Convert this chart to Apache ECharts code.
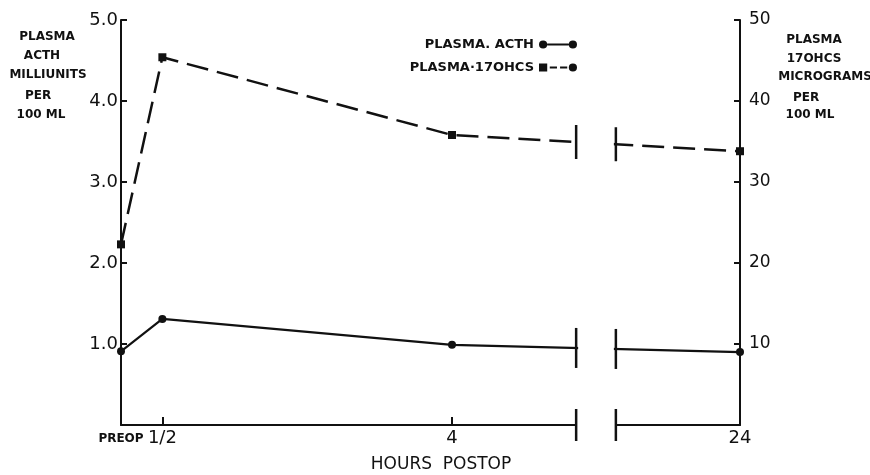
<!DOCTYPE html>
<html><head><meta charset="utf-8">
<script src="https://cdn.jsdelivr.net/npm/echarts@6/dist/echarts.min.js"></script>
<style>html,body{margin:0;padding:0;background:#fff}#c{width:870px;height:475px}</style>
</head><body><div id="c"></div>
<script>
// ---- data ----
const hours = [0, 0.5, 4, 24];
const hourLabels = ['PREOP', '1/2', '4', '24'];
const acth = [0.91, 1.31, 0.99, 0.90];          // milliunits per 100 ml (left axis)
const ohcs = [22.3, 45.4, 35.8, 33.8];          // micrograms per 100 ml (right axis)
const leftTickMax = 5, leftTickStep = 1;
const rightTickMax = 50, rightTickStep = 10;
const breakStart = 5.5, breakEnd = 22.5, breakGap = 0.48;
const seriesNames = ['PLASMA. ACTH', 'PLASMA\u00B717OHCS'];
const leftTitle = ['PLASMA', 'ACTH', 'MILLIUNITS', 'PER', '100 ML'];
const rightTitle = ['PLASMA', '17OHCS', 'MICROGRAMS', 'PER', '100 ML'];
const xTitle = 'HOURS  POSTOP';

// ---- layout / style ----
const FF = 'DejaVu Sans';
const INK = '#111';
const leftPos = [[47,37],[42,56],[48,75],[38,96],[41,115]];
const rightPos = [[814,40],[814,59],[825,77],[806,98],[810,115]];

const iconA = 'path://M0.5,4.5A4,4,0,1,0,8.5,4.5A4,4,0,1,0,0.5,4.5Z M8.5,3.6H29.5V5.4H8.5Z M29.5,4.5A4,4,0,1,0,37.5,4.5A4,4,0,1,0,29.5,4.5Z';
const iconB = 'path://M0.5,0.5H8.5V8.5H0.5Z M11,3.6H18V5.4H11Z M21,3.6H28V5.4H21Z M29.5,4.5A4,4,0,1,0,37.5,4.5A4,4,0,1,0,29.5,4.5Z';

const chart = echarts.init(document.getElementById('c'), null, {renderer: 'canvas'});

function textEl(t, x, y, font) {
  return {type: 'text', x: x, y: y, z: 120, silent: true,
    style: {text: t, font: font, fill: INK, textAlign: 'center', textVerticalAlign: 'middle',
            align: 'center', verticalAlign: 'middle'}};
}
const titleEls = [];
leftTitle.forEach((t, i) => titleEls.push(textEl(t, leftPos[i][0], leftPos[i][1], 'bold 12px "' + FF + '"')));
rightTitle.forEach((t, i) => titleEls.push(textEl(t, rightPos[i][0], rightPos[i][1], 'bold 12px "' + FF + '"')));
titleEls.push(textEl(xTitle, 441, 465, '17px "' + FF + '"'));

const legendBase = {orient: 'horizontal', align: 'right', right: 288, itemWidth: 38, itemHeight: 9,
  selectedMode: false, textStyle: {fontFamily: FF, fontWeight: 'bold', fontSize: 13, color: INK}};

const option = {
  backgroundColor: '#fff',
  animation: false,
  textStyle: {fontFamily: FF},
  grid: {left: 121, right: 130, top: 20, bottom: 50, containLabel: false},
  legend: [
    Object.assign({}, legendBase, {top: 33, data: [seriesNames[0]], icon: iconA}),
    Object.assign({}, legendBase, {top: 56, data: [seriesNames[1]], icon: iconB})
  ],
  xAxis: {
    type: 'value', min: hours[0], max: hours[hours.length - 1],
    breaks: [{start: breakStart, end: breakEnd, gap: breakGap}],
    breakArea: {show: false},
    axisLine: {show: true, onZero: false, lineStyle: {color: INK, width: 2}},
    axisTick: {show: true, inside: true, length: 8, lineStyle: {color: INK, width: 2},
               customValues: hours.slice(1, 3)},
    axisLabel: {show: true, customValues: hours, margin: 4, color: INK, fontSize: 18, fontFamily: FF,
      showMinLabel: true, showMaxLabel: true, hideOverlap: false,
      formatter: function (v) {
        const i = hours.indexOf(v);
        if (i < 0) return '';
        return i === 0 ? '{p|' + hourLabels[i] + '}' : hourLabels[i];
      },
      rich: {p: {fontSize: 12, fontWeight: 'bold', fontFamily: FF, color: INK, padding: [4, 0, 0, 0]}}
    },
    splitLine: {show: false}
  },
  yAxis: [
    {type: 'value', position: 'left', min: 0, max: leftTickMax, interval: leftTickStep,
     axisLine: {show: true, lineStyle: {color: INK, width: 2}},
     axisTick: {show: true, inside: true, length: 6, lineStyle: {color: INK, width: 2}},
     axisLabel: {margin: 3, color: INK, fontSize: 18, fontFamily: FF,
       formatter: v => v === 0 ? '' : v.toFixed(1)},
     splitLine: {show: false}},
    {type: 'value', position: 'right', min: 0, max: rightTickMax, interval: rightTickStep,
     axisLine: {show: true, lineStyle: {color: INK, width: 2}},
     axisTick: {show: true, inside: true, length: 6, lineStyle: {color: INK, width: 2}},
     axisLabel: {margin: 9, color: INK, fontSize: 17, fontFamily: FF,
       formatter: v => v === 0 ? '' : String(v)},
     splitLine: {show: false}}
  ],
  series: [
    {type: 'line', name: seriesNames[0], yAxisIndex: 0, data: hours.map((h, i) => [h, acth[i]]),
     symbol: 'circle', symbolSize: 8, color: INK,
     lineStyle: {color: INK, width: 2.2}, itemStyle: {color: INK}},
    {type: 'line', name: seriesNames[1], yAxisIndex: 1, data: hours.map((h, i) => [h, ohcs[i]]),
     symbol: 'rect', symbolSize: 8, color: INK,
     lineStyle: {color: INK, width: 2.5, type: [22, 9]}, itemStyle: {color: INK}}
  ],
  graphic: {elements: titleEls}
};
chart.setOption(option);

// break markers, computed from the axis scale
const bx1 = chart.convertToPixel({xAxisIndex: 0}, breakStart);
const bx2 = chart.convertToPixel({xAxisIndex: 0}, breakEnd);
const axisY = chart.convertToPixel({yAxisIndex: 0}, 0);
function lineYAt(seriesIndex, vals, px) {
  const a = chart.convertToPixel({seriesIndex: seriesIndex}, [hours[2], vals[2]]);
  const b = chart.convertToPixel({seriesIndex: seriesIndex}, [hours[3], vals[3]]);
  return a[1] + (b[1] - a[1]) * (px - a[0]) / (b[0] - a[0]);
}
const extra = [];
extra.push({type: 'rect', z: 100, silent: true, shape: {x: bx1 + 2, y: 95, width: bx2 - bx1 - 4, height: axisY - 95 + 8},
  style: {fill: '#fff'}});
function bar(x, cy, half) {
  extra.push({type: 'line', z: 101, silent: true, shape: {x1: x, y1: cy - half, x2: x, y2: cy + half},
    style: {stroke: INK, lineWidth: 2.5}});
}
[bx1, bx2].forEach(x => {
  bar(x, axisY, 16);
  bar(x, lineYAt(0, acth, x), 20);
  bar(x, lineYAt(1, ohcs, x), 17);
});
chart.setOption({graphic: {elements: titleEls.concat(extra)}});
</script>
</body></html>
